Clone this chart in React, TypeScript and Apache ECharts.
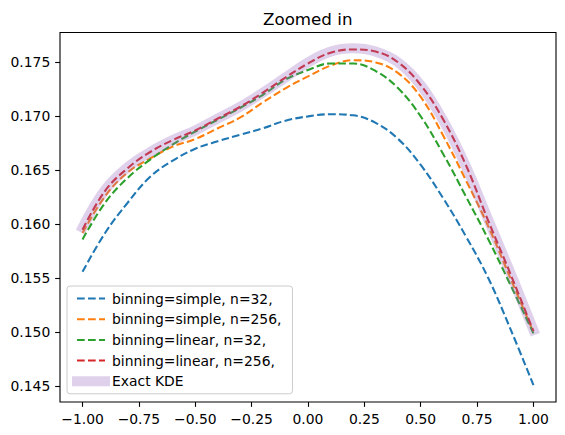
import React, { useEffect, useRef } from "react";
import * as echarts from "echarts";

const xValues = [-1.0, -0.9, -0.8, -0.7, -0.6, -0.5, -0.4, -0.3, -0.2, -0.1, 0.0, 0.1, 0.2, 0.3, 0.4, 0.5, 0.6, 0.7, 0.8, 0.9, 1.0];

const simple32 = [0.1556, 0.1592, 0.1620, 0.1644, 0.1659, 0.1670, 0.1677, 0.1683, 0.1689, 0.1696, 0.1700, 0.1702, 0.1701, 0.1694, 0.1679, 0.1655, 0.1624, 0.1589, 0.1550, 0.1502, 0.1451];
const simple256 = [0.1592, 0.1626, 0.1648, 0.1661, 0.1672, 0.1679, 0.1689, 0.1699, 0.1713, 0.1726, 0.1737, 0.1747, 0.1752, 0.1750, 0.1740, 0.1718, 0.1682, 0.1641, 0.1598, 0.1549, 0.1500];
const linear32 = [0.1586, 0.1620, 0.1643, 0.1660, 0.1674, 0.1686, 0.1697, 0.1708, 0.1720, 0.1734, 0.1743, 0.1749, 0.1749, 0.1742, 0.1726, 0.1700, 0.1665, 0.1626, 0.1586, 0.1543, 0.1499];
const linear256 = [0.1595, 0.1631, 0.1652, 0.1667, 0.1678, 0.1687, 0.1698, 0.1709, 0.1722, 0.1736, 0.1749, 0.1759, 0.1762, 0.1760, 0.1750, 0.1729, 0.1697, 0.1655, 0.1603, 0.1553, 0.1501];
const exactKde = [0.1597, 0.1632, 0.1653, 0.1667, 0.1678, 0.1687, 0.1698, 0.1709, 0.1722, 0.1736, 0.1750, 0.1760, 0.1763, 0.1760, 0.1750, 0.1729, 0.1696, 0.1654, 0.1604, 0.1554, 0.1502];

const seriesNames = [
  "binning=simple, n=32,",
  "binning=simple, n=256,",
  "binning=linear, n=32,",
  "binning=linear, n=256,",
  "Exact KDE",
];

const xTicks = [-1.0, -0.75, -0.5, -0.25, 0.0, 0.25, 0.5, 0.75, 1.0];
const yTicks = [0.145, 0.15, 0.155, 0.16, 0.165, 0.17, 0.175];

export default function App() {
  const ref = useRef<HTMLDivElement>(null);

  useEffect(() => {
    if (!ref.current) return;
    const chart = echarts.init(ref.current, null, { renderer: "svg" });
    const font = "DejaVu Sans";
    const pair = (ys: number[]) => xValues.map((x, i) => [x, ys[i]]);
    const dash = [7.7, 3.3];
    const dashed = (name: string, color: string, ys: number[]) => ({
      name,
      type: "line",
      data: pair(ys),
      smooth: 0.4,
      symbol: "none",
      showSymbol: false,
      lineStyle: { color, width: 2.08, type: dash },
      itemStyle: { color },
      emphasis: { disabled: true },
    });
    const kdeColor = "rgba(148,103,189,0.3)";

    chart.setOption({
      animation: false,
      title: {
        text: "Zoomed in",
        left: 263,
        top: 10,
        padding: 0,
        textStyle: { fontFamily: font, fontSize: 16.7, fontWeight: "normal", color: "#000" },
      },
      grid: {
        left: 60,
        top: 32.5,
        right: 9,
        bottom: 33,
        show: true,
        borderColor: "#000",
        borderWidth: 1.1,
        containLabel: false,
        outerBoundsMode: "none",
      },
      xAxis: {
        type: "value",
        min: -1.1,
        max: 1.1,
        axisLine: { show: false, onZero: false },
        splitLine: { show: false },
        axisTick: { customValues: xTicks, length: 4.86, lineStyle: { color: "#000", width: 1.1 } },
        axisLabel: {
          customValues: xTicks,
          margin: 9.7,
          fontFamily: font,
          fontSize: 13.9,
          color: "#000",
          formatter: (v: number) => v.toFixed(2).replace("-", "\u2212"),
        },
      },
      yAxis: {
        type: "value",
        min: 0.14354,
        max: 0.17777,
        axisLine: { show: false, onZero: false },
        splitLine: { show: false },
        axisTick: { customValues: yTicks, length: 4.86, lineStyle: { color: "#000", width: 1.1 } },
        axisLabel: {
          customValues: yTicks,
          margin: 9.7,
          fontFamily: font,
          fontSize: 13.9,
          color: "#000",
          formatter: (v: number) => v.toFixed(3),
        },
      },
      legend: {
        orient: "vertical",
        left: 67,
        top: 286,
        itemWidth: 28,
        itemHeight: 14,
        itemGap: 6.7,
        padding: [5.5, 11, 5.5, 5],
        backgroundColor: "rgba(255,255,255,0.8)",
        borderColor: "#cccccc",
        borderWidth: 1,
        borderRadius: 3,
        selectedMode: false,
        itemStyle: { opacity: 0, borderWidth: 0 },
        textStyle: { fontFamily: font, fontSize: 13.9, color: "#000", padding: [0, 0, 0, 2] },
        data: [
          { name: seriesNames[0] },
          { name: seriesNames[1] },
          { name: seriesNames[2] },
          { name: seriesNames[3] },
          { name: seriesNames[4], lineStyle: { width: 10, cap: "square" } },
        ],
      },
      series: [
        dashed(seriesNames[0], "#1f77b4", simple32),
        dashed(seriesNames[1], "#ff7f0e", simple256),
        dashed(seriesNames[2], "#2ca02c", linear32),
        dashed(seriesNames[3], "#d62728", linear256),
        {
          name: seriesNames[4],
          type: "line",
          data: pair(exactKde),
          smooth: 0.4,
          symbol: "none",
          showSymbol: false,
          lineStyle: { color: kdeColor, width: 10, cap: "square" },
          itemStyle: { color: kdeColor },
          emphasis: { disabled: true },
        },
      ],
    });
    return () => chart.dispose();
  }, []);

  return (
    <div
      ref={ref}
      style={{ position: "absolute", left: 0, top: 0, width: 565, height: 435 }}
    />
  );
}
